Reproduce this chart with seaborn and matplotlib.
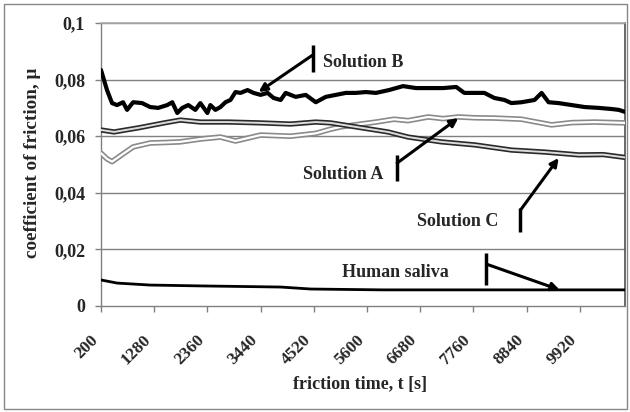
import numpy as np
import pandas as pd
import matplotlib
matplotlib.use("Agg")
import matplotlib.pyplot as plt
import matplotlib.patheffects as pe
from matplotlib.patches import Rectangle
from matplotlib.transforms import ScaledTranslation
import seaborn as sns

# ---- data ----
b_time = [200, 322, 424, 526, 648, 730, 852, 1035, 1198, 1361, 1545, 1647, 1749,
          1851, 1973, 2115, 2217, 2360, 2421, 2523, 2625, 2727, 2829, 2931, 3032,
          3175, 3297, 3440, 3583, 3705, 3848, 3949, 4153, 4357, 4561, 4764, 4968,
          5172, 5376, 5580, 5783, 6048, 6333, 6598, 6863, 7148, 7413, 7577, 7780,
          7984, 8188, 8392, 8534, 8738, 9003, 9146, 9288, 9492, 9757, 10022, 10307,
          10572, 10715, 10837]
b_mu = [0.0834, 0.0763, 0.0717, 0.0710, 0.0720, 0.0693, 0.0720, 0.0717, 0.0703,
        0.0700, 0.0710, 0.0720, 0.0682, 0.0700, 0.0710, 0.0693, 0.0717, 0.0682,
        0.0710, 0.0693, 0.0703, 0.0720, 0.0728, 0.0756, 0.0753, 0.0763, 0.0753,
        0.0746, 0.0753, 0.0735, 0.0728, 0.0753, 0.0739, 0.0746, 0.0720, 0.0739,
        0.0746, 0.0753, 0.0753, 0.0756, 0.0753, 0.0763, 0.0777, 0.0770, 0.0770,
        0.0770, 0.0774, 0.0753, 0.0753, 0.0753, 0.0735, 0.0728, 0.0717, 0.0720,
        0.0728, 0.0753, 0.0720, 0.0717, 0.0710, 0.0703, 0.0700, 0.0696, 0.0693,
        0.0686]

a_time = [200, 322, 424, 628, 852, 1198, 1545, 1810, 2217, 2625, 2931, 3440, 4051,
          4561, 4866, 5071, 5478, 5783, 6150, 6436, 6844, 7148, 7455, 7800, 8189,
          8738, 9350, 9757, 10226, 10838]
a_mu = [0.0540, 0.0520, 0.0510, 0.0535, 0.0562, 0.0576, 0.0578, 0.0580, 0.0590,
        0.0597, 0.0583, 0.0604, 0.0600, 0.0610, 0.0625, 0.0633, 0.0643, 0.0650,
        0.0660, 0.0655, 0.0668, 0.0662, 0.0668, 0.0665, 0.0664, 0.0660, 0.0640,
        0.0648, 0.0650, 0.0647]

c_time = [200, 465, 975, 1484, 1810, 2217, 2800, 3440, 4051, 4561, 4866, 5478,
          6028, 6436, 7109, 7802, 8535, 9208, 9901, 10400, 10838]
c_mu = [0.0622, 0.0615, 0.0630, 0.0647, 0.0657, 0.0650, 0.0650, 0.0647, 0.0643,
        0.0650, 0.0647, 0.0630, 0.0615, 0.0597, 0.0580, 0.0569, 0.0551, 0.0544,
        0.0534, 0.0535, 0.0525]

h_time = [200, 526, 1198, 2217, 3848, 4459, 5900, 7500, 9000, 10838]
h_mu = [0.0092, 0.0081, 0.0074, 0.0071, 0.0067, 0.0060, 0.0057, 0.0057, 0.0057, 0.0057]

x_ticks = [200, 1280, 2360, 3440, 4520, 5600, 6680, 7760, 8840, 9920]
y_ticks = [0, 0.02, 0.04, 0.06, 0.08, 0.1]
y_tick_labels = ["0", "0,02", "0,04", "0,06", "0,08", "0,1"]

sns.set_style("white")
plt.rcParams["font.family"] = ["Liberation Serif", "DejaVu Serif"]
plt.rcParams["font.weight"] = "bold"

fig = plt.figure(figsize=(6.3, 4.12), dpi=100)
ax = fig.add_axes([101 / 630, 1 - 306 / 412, 524 / 630, 283 / 412])

fig.patches.append(Rectangle((4 / 630, 3 / 412), 623 / 630, 405 / 412,
                             transform=fig.transFigure, fill=False,
                             edgecolor="#888888", linewidth=1.0, zorder=0))

df_b = pd.DataFrame({"t": b_time, "mu": b_mu})
df_a = pd.DataFrame({"t": a_time, "mu": a_mu})
df_c = pd.DataFrame({"t": c_time, "mu": c_mu})
df_h = pd.DataFrame({"t": h_time, "mu": h_mu})

for y in y_ticks[1:]:
    ax.axhline(y, color="#808080", linewidth=1.0, zorder=1)

sns.lineplot(data=df_a, x="t", y="mu", ax=ax, color="white", linewidth=1.6,
             zorder=3, path_effects=[pe.Stroke(linewidth=4.0, foreground="#8a8a8a"), pe.Normal()])
sns.lineplot(data=df_c, x="t", y="mu", ax=ax, color="#dddddd", linewidth=1.4,
             zorder=3, path_effects=[pe.Stroke(linewidth=3.8, foreground="#2a2a2a"), pe.Normal()])
sns.lineplot(data=df_b, x="t", y="mu", ax=ax, color="black", linewidth=3.0, zorder=4)
sns.lineplot(data=df_h, x="t", y="mu", ax=ax, color="black", linewidth=2.0, zorder=4)

ax.set_xlim(200, 10840)
ax.set_ylim(0, 0.1)
ax.set_xticks(x_ticks)
ax.set_xticklabels([str(v) for v in x_ticks], rotation=45, ha="right",
                   rotation_mode="anchor", fontsize=12.5, fontweight="bold")
ax.set_yticks(y_ticks)
ax.set_yticklabels(y_tick_labels, fontsize=13, fontweight="bold")
ax.tick_params(axis="x", direction="out", length=4.3, width=1, color="#808080",
               bottom=True, pad=3)
ax.tick_params(axis="y", direction="out", length=4, width=1, color="#808080",
               left=True, pad=7.5)
off = ScaledTranslation(-11 / 100, -16 / 100, fig.dpi_scale_trans)
for lab in ax.get_xticklabels():
    lab.set_transform(lab.get_transform() + off)

for s in ["left", "bottom"]:
    ax.spines[s].set_color("#808080")
    ax.spines[s].set_linewidth(1.0)
ax.spines["top"].set_color("#a8a8a8")
ax.spines["right"].set_color("#505050")
ax.spines["top"].set_linewidth(1.2)
ax.spines["right"].set_linewidth(1.2)

ax.set_xlabel("friction time, t [s]", fontsize=13, fontweight="bold", va="center")
ax.xaxis.set_label_coords((360 - 101) / 524, (306 - 384) / 283)
ax.set_ylabel("coefficient of friction, μ", fontsize=13.8, fontweight="bold", va="center")
ax.yaxis.set_label_coords((32 - 101) / 524, (306 - 163) / 283)

def callout(text, tx, ty, ha, bx, by0, by1, ay, hx, hy):
    ax.text(tx, ty, text, ha=ha, va="center", fontsize=13, fontweight="bold", zorder=6)
    ax.plot([bx, bx], [by0, by1], color="black", linewidth=2.5, zorder=6,
            solid_capstyle="butt")
    ax.annotate("", xy=(hx, hy), xytext=(bx, ay),
                arrowprops=dict(arrowstyle="-|>", color="black", lw=2.2,
                                mutation_scale=12, shrinkA=0, shrinkB=0), zorder=6)

callout("Solution B", 4703, 0.0862, "left", 4500, 0.0922, 0.0827, 0.0887, 3400, 0.0756)
callout("Solution A", 5926, 0.0463, "right", 6212, 0.0534, 0.0442, 0.0505, 7455, 0.0664)
callout("Solution C", 8269, 0.0297, "right", 8718, 0.0346, 0.0261, 0.0339, 9493, 0.0523)
callout("Human saliva", 6171, 0.0120, "center", 8026, 0.0187, 0.0074, 0.0148, 9514, 0.0057)

fig.savefig("out.png", dpi=100)
